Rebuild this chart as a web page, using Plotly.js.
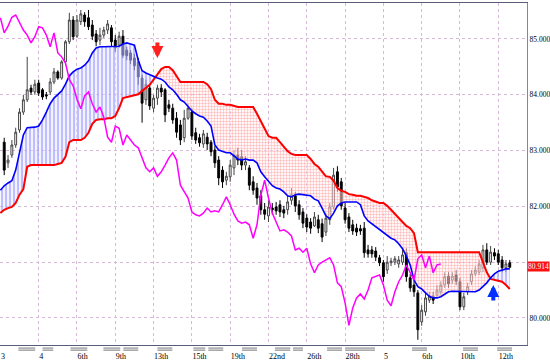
<!DOCTYPE html>
<html><head><meta charset="utf-8">
<script src="https://cdn.plot.ly/plotly-3.0.1.min.js"></script>
<style>html,body{margin:0;padding:0;background:#fff}#chart{width:550px;height:360px}</style>
</head><body><div id="chart"></div>
<script>
// ---- data ----
const tickBars = [0,10,20,30,40,50,60,70,80,90,100,110,120,130];
const tickLabels = ["3","4","6th","9th","13th","15th","19th","22nd","26th","28th","5","6th","10th","12th"];
const priceTicks = [80,81,82,83,84,85];
const priceTickText = ["80.000","","82.000","83.000","84.000","85.000"];

// candles, bars 1..133
const openP = [83.15,82.78,82.92,83.10,83.37,83.69,83.91,84.12,84.05,84.21,
84.09,84.00,84.05,84.23,84.41,84.30,84.59,84.95,85.34,85.05,
85.31,85.43,85.38,85.25,85.09,84.98,85.07,85.16,85.20,84.98,
84.89,85.05,84.80,84.75,84.66,84.59,84.30,83.91,84.12,83.76,
83.94,84.12,84.09,83.82,83.76,83.58,83.46,83.23,83.58,83.69,
83.32,83.23,83.12,83.24,83.15,83.01,82.83,82.65,82.47,82.53,
82.69,82.92,82.89,82.74,82.69,82.44,82.33,82.19,81.94,81.83,
81.97,81.99,82.03,81.94,81.94,82.11,82.19,82.03,81.90,81.79,
81.72,81.65,81.76,81.69,81.54,81.76,81.99,82.62,82.44,81.97,
81.81,81.67,81.61,81.60,81.61,81.22,81.22,81.20,81.08,80.99,
80.86,80.99,81.00,80.97,81.00,81.17,80.72,80.59,80.45,79.93,
80.11,80.32,80.39,80.41,80.47,80.59,80.75,80.68,80.77,80.65,
80.20,80.47,80.65,80.79,80.82,80.90,81.22,81.00,81.17,81.15,
81.04,80.90,80.99];
const closeP = [82.65,82.83,83.10,83.33,83.69,83.91,84.09,84.05,84.19,84.03,
83.96,83.98,84.23,84.41,84.30,84.59,84.95,85.34,85.04,85.34,
85.45,85.31,85.22,85.05,84.95,85.07,85.16,85.27,84.95,84.84,
85.05,84.71,84.70,84.62,84.52,84.32,83.85,84.19,83.80,83.94,
84.12,84.05,83.64,83.76,83.55,83.33,83.19,83.58,83.76,83.26,
83.19,83.14,83.30,83.12,82.98,82.78,82.51,82.44,82.54,82.74,
82.92,82.83,82.74,82.80,82.38,82.29,82.15,81.94,81.86,81.99,
81.94,81.92,81.90,81.88,82.08,82.21,82.01,81.85,81.70,81.63,
81.61,81.81,81.61,81.45,81.79,81.99,82.56,82.35,82.01,81.76,
81.61,81.56,81.54,81.56,81.17,81.15,81.15,81.09,80.99,80.74,
81.00,81.02,81.06,81.04,81.13,80.74,80.54,80.47,79.79,80.14,
80.36,80.39,80.32,80.50,80.59,80.74,80.61,80.75,80.66,80.20,
80.38,80.56,80.79,80.86,80.97,81.22,81.00,81.18,81.11,81.00,
80.90,80.97,80.91];
const highP = [83.23,82.92,83.19,83.41,83.76,84.00,84.68,84.18,84.27,84.27,
84.12,84.05,84.30,84.48,84.44,84.62,84.98,85.47,85.41,85.43,
85.52,85.48,85.52,85.34,85.16,85.20,85.22,85.34,85.25,85.07,
85.13,85.16,84.86,84.80,84.73,84.66,84.36,84.27,84.18,84.00,
84.18,84.19,84.12,83.91,83.84,83.69,83.55,83.73,83.84,83.76,
83.41,83.30,83.37,83.32,83.19,83.08,82.90,82.72,82.62,82.83,
83.01,83.05,83.01,82.90,82.74,82.54,82.42,82.29,82.06,82.11,
82.06,82.08,82.11,82.01,82.19,82.33,82.26,82.11,81.97,81.86,
81.79,81.90,81.85,81.78,81.88,82.06,82.69,82.72,82.51,82.06,
81.88,81.76,81.69,81.67,81.72,81.31,81.29,81.27,81.13,81.04,
81.11,81.08,81.11,81.11,81.22,81.25,80.79,80.68,80.50,80.23,
80.47,80.47,80.47,80.59,80.66,80.82,80.82,80.82,80.86,80.72,
80.45,80.63,80.86,80.93,81.04,81.31,81.34,81.29,81.25,81.22,
81.11,81.04,81.04];
const lowP = [82.56,82.69,82.87,83.05,83.32,83.64,83.87,84.00,84.00,83.98,
83.91,83.92,84.00,84.19,84.27,84.27,84.53,84.91,84.98,85.02,
85.25,85.22,85.16,84.98,84.87,84.89,85.02,85.09,84.87,84.77,
84.84,84.66,84.62,84.55,84.44,84.18,83.50,83.82,83.73,83.69,
83.82,83.96,83.51,83.69,83.48,83.23,83.10,83.15,83.55,83.19,
83.12,83.07,83.05,83.01,82.90,82.69,82.38,82.33,82.38,82.44,
82.56,82.74,82.65,82.65,82.29,82.21,82.03,81.85,81.76,81.72,
81.85,81.85,81.81,81.79,81.85,82.03,81.90,81.76,81.61,81.54,
81.51,81.63,81.52,81.36,81.47,81.67,81.94,82.26,81.94,81.69,
81.54,81.49,81.47,81.49,81.08,81.08,81.08,81.02,80.93,80.65,
80.79,80.93,80.95,80.90,80.95,80.65,80.47,80.38,79.61,79.86,
80.04,80.27,80.25,80.36,80.41,80.54,80.54,80.61,80.59,80.14,
80.14,80.41,80.59,80.75,80.77,80.82,80.95,80.95,81.04,80.95,
80.82,80.82,80.90];

// cloud spans, bars 0..133
const spanA = [82.29,82.37,82.42,82.46,82.65,82.94,83.28,83.41,83.41,83.42,
83.44,83.55,83.69,83.84,83.94,84.00,84.07,84.19,84.34,84.41,
84.46,84.48,84.53,84.61,84.75,84.84,84.86,84.86,84.86,84.86,
84.86,84.87,84.91,84.93,84.91,84.89,84.62,84.43,84.39,84.36,
84.32,84.30,84.28,84.23,84.14,84.09,84.01,83.91,83.87,83.78,
83.71,83.66,83.62,83.60,83.53,83.44,83.10,83.01,82.98,82.96,
82.96,82.90,82.85,82.83,82.85,82.83,82.83,82.78,82.62,82.53,
82.44,82.37,82.33,82.31,82.26,82.19,82.17,82.21,82.22,82.21,
82.19,82.19,82.13,82.10,81.97,81.83,81.78,81.88,82.01,82.06,
82.08,82.08,82.08,82.08,82.03,81.83,81.74,81.69,81.63,81.58,
81.54,81.49,81.43,81.40,81.33,81.24,81.11,80.95,80.68,80.56,
80.52,80.45,80.39,80.36,80.36,80.38,80.43,80.47,80.48,80.48,
80.48,80.47,80.47,80.47,80.47,80.50,80.56,80.63,80.72,80.79,
80.84,80.86,80.88,80.88];
const spanB = [81.88,81.94,81.97,81.99,82.06,82.21,82.31,82.71,82.74,82.74,
82.74,82.74,82.74,82.74,82.74,82.76,82.78,82.89,83.15,83.19,
83.19,83.19,83.23,83.32,83.48,83.55,83.56,83.56,83.58,83.58,
83.62,83.76,83.94,83.96,83.98,84.00,84.01,84.07,84.12,84.18,
84.27,84.37,84.46,84.50,84.50,84.44,84.34,84.23,84.23,84.23,
84.23,84.23,84.23,84.23,84.19,84.10,83.91,83.84,83.84,83.82,
83.82,83.80,83.78,83.78,83.78,83.78,83.78,83.66,83.53,83.39,
83.26,83.23,83.23,83.15,83.07,82.99,82.94,82.92,82.92,82.92,
82.92,82.85,82.76,82.71,82.62,82.54,82.53,82.46,82.33,82.28,
82.26,82.22,82.21,82.19,82.19,82.17,82.15,82.11,82.08,82.06,
82.06,82.01,81.94,81.86,81.79,81.72,81.65,81.61,81.52,81.18,
81.18,81.18,81.18,81.18,81.18,81.18,81.18,81.18,81.18,81.18,
81.18,81.18,81.18,81.18,81.18,81.18,81.00,80.82,80.70,80.68,
80.66,80.65,80.59,80.52];

// lagging span, bars 0..115
const chikou = [85.38,85.11,85.23,85.39,85.43,85.29,85.16,85.07,84.93,85.04,
85.22,85.20,85.07,84.86,85.11,84.75,84.68,84.57,84.27,84.16,
83.92,83.75,83.98,84.05,83.84,83.69,83.78,83.60,83.24,83.15,
83.44,83.40,83.10,83.28,83.19,83.10,83.05,82.87,82.69,82.62,
82.69,82.54,82.62,82.74,82.87,82.96,82.83,82.38,82.26,82.15,
81.90,81.85,81.83,81.88,81.97,81.90,81.92,81.90,82.03,82.17,
82.03,81.86,81.74,81.70,81.72,81.67,81.43,81.67,82.20,82.47,
82.15,81.88,81.72,81.56,81.58,81.54,81.47,81.22,81.25,81.18,
81.25,80.97,80.81,80.95,81.00,81.04,81.08,80.95,80.63,80.56,
80.27,79.87,80.18,80.36,80.43,80.34,80.50,80.72,80.75,80.77,
80.59,80.32,80.22,80.47,80.65,80.77,80.95,80.82,80.68,81.06,
81.13,80.90,81.11,80.81,80.95,80.97];

const lastPrice = 80.914;
const sellSignal = {bar: 41, price: 84.66};
const buySignal = {bar: 128.7, price: 80.59};
const sessionMarks = [[4.7,9.1],[11,13.8],[18.3,22.7],[26.9,31.3],[32.1,36],[41,44.9],
  [50.4,53.5],[54.3,58.2],[63.1,67],[71.7,75.7],[76.4,79],[85.3,89.2],[90,97.8],
  [107.5,111.4],[120.8,124.7],[129.7,133.6]];

// ---- build ----
const candleBars = openP.map((_, k) => k + 1);
const lineBars = spanA.map((_, k) => k);
const chikouBars = chikou.map((_, k) => k);
const upper = spanA.map((a, k) => Math.max(a, spanB[k]));

const traces = [
  {type:'scatter', mode:'lines', x:lineBars, y:spanB, line:{width:0}, hoverinfo:'skip', showlegend:false},
  {type:'scatter', mode:'lines', x:lineBars, y:upper, line:{width:0}, fill:'tonexty',
   fillcolor:'rgba(225,225,255,0.4)',
   fillpattern:{shape:'|', fgcolor:'rgba(100,100,255,0.75)', bgcolor:'rgba(232,232,255,0.5)', size:4, solidity:0.25},
   hoverinfo:'skip', showlegend:false},
  {type:'scatter', mode:'lines', x:lineBars, y:spanA, line:{width:0}, hoverinfo:'skip', showlegend:false},
  {type:'scatter', mode:'lines', x:lineBars, y:upper, line:{width:0}, fill:'tonexty',
   fillcolor:'rgba(255,215,215,0.4)',
   fillpattern:{shape:'+', fgcolor:'rgba(255,110,110,0.8)', bgcolor:'rgba(255,240,240,0.5)', size:3, solidity:0.2},
   hoverinfo:'skip', showlegend:false},
  {type:'candlestick', x:candleBars, open:openP, high:highP, low:lowP, close:closeP,
   increasing:{line:{color:'#444444', width:1}, fillcolor:'#ffffff'},
   decreasing:{line:{color:'#000000', width:1}, fillcolor:'#000000'},
   whiskerwidth:0, showlegend:false, hoverinfo:'skip'},
  {type:'scatter', mode:'lines', x:lineBars, y:spanB, line:{color:'#ff0000', width:2}, showlegend:false},
  {type:'scatter', mode:'lines', x:lineBars, y:spanA, line:{color:'#0000ff', width:1.6}, showlegend:false},
  {type:'scatter', mode:'lines', x:chikouBars, y:chikou, line:{color:'#ff00ff', width:1.5}, showlegend:false}
];

const shapes = [];
sessionMarks.forEach(([a, b]) => {
  [-0.009, -0.015].forEach(yy => shapes.push({type:'line', xref:'x', yref:'paper', x0:a, x1:b, y0:yy, y1:yy,
    line:{color:'#777777', width:1}}));
});

const layout = {
  width:550, height:360,
  margin:{l:0, r:23, t:3, b:15},
  paper_bgcolor:'#ffffff', plot_bgcolor:'#ffffff',
  showlegend:false,
  font:{family:'Liberation Serif, DejaVu Serif, serif', size:8, color:'#000'},
  xaxis:{range:[-0.1,137.5], tickvals:tickBars, ticktext:tickLabels, ticks:'',
    ticklabelposition:'outside right', ticklabelstandoff:3,
    showgrid:true, gridcolor:'#d9b9d9', griddash:'dot', gridwidth:1, zeroline:false,
    showline:true, mirror:true, linecolor:'#5a5a7a', linewidth:1,
    rangeslider:{visible:false}, fixedrange:true, tickfont:{size:8}},
  yaxis:{range:[79.516,85.645], side:'right', tickvals:priceTicks, ticktext:priceTickText, ticks:'',
    showgrid:true, gridcolor:'#d9b9d9', griddash:'dot', gridwidth:1, zeroline:false,
    showline:true, mirror:true, linecolor:'#888888', linewidth:1, fixedrange:true,
    tickfont:{size:7.5}, ticklabelstandoff:0},
  shapes:shapes,
  annotations:[
    {xref:'paper', x:1, yref:'y', y:lastPrice, xanchor:'left', yanchor:'middle', xshift:0,
     text:lastPrice.toFixed(3), showarrow:false, bgcolor:'#ff1010', borderpad:0,
     font:{size:7.5, color:'#e8ffff'}},
    {x:sellSignal.bar, y:sellSignal.price, ax:0, ay:-17, showarrow:true, arrowhead:2, arrowsize:0.6,
     arrowwidth:4, arrowcolor:'#ff2020', text:''},
    {x:buySignal.bar, y:buySignal.price, ax:0, ay:17, showarrow:true, arrowhead:2, arrowsize:0.6,
     arrowwidth:4, arrowcolor:'#0030ff', text:''}
  ]
};

Plotly.newPlot('chart', traces, layout, {displayModeBar:false, staticPlot:true});
</script>
</body></html>
